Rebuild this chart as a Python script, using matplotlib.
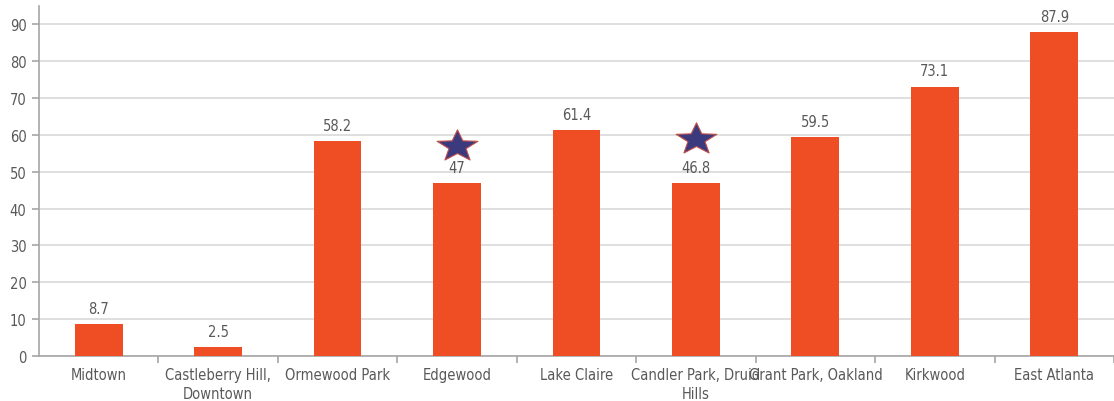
import matplotlib
matplotlib.use("Agg")
import matplotlib.pyplot as plt
from matplotlib.path import Path
import numpy as np

plt.rcParams["font.family"] = ["DejaVu Sans"]
plt.rcParams["font.stretch"] = "condensed"

neighborhoods = ["Midtown", "Castleberry Hill,\nDowntown", "Ormewood Park", "Edgewood",
                 "Lake Claire", "Candler Park, Druid\nHills", "Grant Park, Oakland",
                 "Kirkwood", "East Atlanta"]
values = [8.7, 2.5, 58.2, 47, 61.4, 46.8, 59.5, 73.1, 87.9]
value_labels = ["8.7", "2.5", "58.2", "47", "61.4", "46.8", "59.5", "73.1", "87.9"]
starred = ["Edgewood", "Candler Park, Druid\nHills"]
star_heights = [57.0, 59.0]

BAR = "#EF4E24"
TEXT = "#595959"
GRID = "#D9D9D9"
AXIS = "#A6A6A6"

# a slightly squat five-point star marker
ang = np.deg2rad(90 + 36 * np.arange(10))
rad = np.where(np.arange(10) % 2 == 0, 1.0, 0.42)
verts = np.column_stack([rad * np.cos(ang), 0.78 * rad * np.sin(ang)])
verts = np.vstack([verts, verts[:1]])
star = Path(verts, closed=True)

fig = plt.figure(figsize=(11.14, 4.02), dpi=100)
ax = fig.add_axes([0.035, 0.112, 0.965, 0.871])

x = np.arange(len(neighborhoods))
ax.bar(x, values, 0.4, color=BAR, zorder=3)
for xi, v, lab in zip(x, values, value_labels):
    ax.text(xi, v + 2.2, lab, ha="center", va="bottom", fontsize=10.5, color=TEXT)

sx = [neighborhoods.index(n) for n in starred]
ax.scatter(sx, star_heights, marker=star, s=860, color="#3C3A7E",
           edgecolor="#C0504D", linewidth=0.8, zorder=4)

ax.set_xlim(-0.5, len(neighborhoods) - 0.5)
ax.set_ylim(0, 95)
ax.set_yticks(range(0, 100, 10))
ax.yaxis.grid(True, color=GRID, linewidth=1.2, zorder=0)
ax.set_axisbelow(True)

ax.set_xticks(x)
ax.set_xticklabels(neighborhoods, fontsize=10.5, color=TEXT, linespacing=1.3)
ax.tick_params(axis="x", length=0, pad=8)
ax.set_xticks(np.arange(len(neighborhoods)) + 0.5, minor=True)
ax.tick_params(axis="x", which="minor", length=5, color=AXIS, width=1.2)
ax.tick_params(axis="y", length=5, color=AXIS, width=1.2, labelsize=10.5,
               labelcolor=TEXT, pad=4)

for s in ("top", "right"):
    ax.spines[s].set_visible(False)
for s in ("left", "bottom"):
    ax.spines[s].set_color(AXIS)
    ax.spines[s].set_linewidth(1.2)

fig.savefig("out.png", dpi=100)
